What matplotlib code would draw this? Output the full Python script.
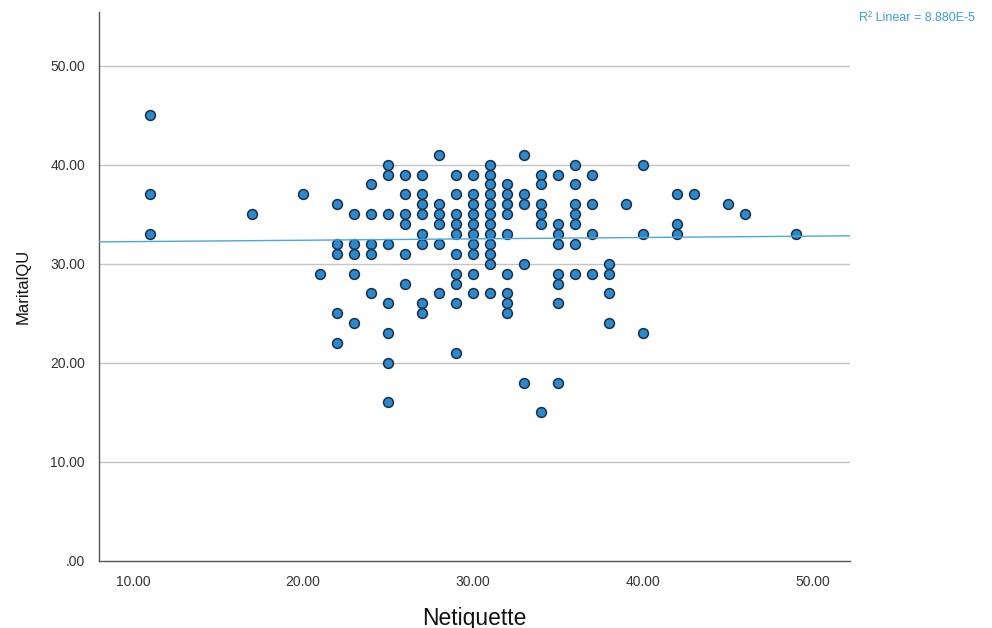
import numpy as np
import matplotlib
matplotlib.use("Agg")
import matplotlib.pyplot as plt

plt.rcParams['font.family'] = ['Liberation Sans', 'DejaVu Sans']

# Netiquette value -> MaritalQU values
columns = {
    11: [45, 37, 33],
    17: [35],
    20: [37],
    21: [29],
    22: [36, 32, 31, 25, 22],
    23: [35, 32, 31, 29, 24],
    24: [38, 35, 32, 31, 27],
    25: [40, 39, 35, 32, 26, 23, 20, 16],
    26: [39, 37, 35, 34, 31, 28],
    27: [39, 37, 36, 35, 33, 32, 26, 25],
    28: [41, 36, 35, 34, 32, 27],
    29: [39, 37, 35, 34, 33, 31, 29, 28, 26, 21],
    30: [39, 37, 36, 35, 34, 33, 32, 31, 29, 27],
    31: [40, 39, 38, 37, 36, 35, 34, 33, 32, 31, 30, 27],
    32: [38, 37, 36, 35, 33, 29, 27, 26, 25],
    33: [41, 37, 36, 30, 18],
    34: [39, 38, 36, 35, 34, 15],
    35: [39, 34, 33, 32, 29, 28, 26, 18],
    36: [40, 38, 36, 35, 34, 32, 29],
    37: [39, 36, 33, 29],
    38: [30, 29, 27, 24],
    39: [36],
    40: [40, 33, 23],
    42: [37, 34, 33],
    43: [37],
    45: [36],
    46: [35],
    49: [33],
}
netiquette = np.array([k for k, v in columns.items() for _ in v], dtype=float)
marital = np.array([y for v in columns.values() for y in v], dtype=float)

x_ticks = [10, 20, 30, 40, 50]
y_ticks = [0, 10, 20, 30, 40, 50]
r2_label = "R\u00b2 Linear = 8.880E-5"

fig = plt.figure(figsize=(9.92, 6.28), dpi=100)
ax = fig.add_axes([99 / 992, (628 - 561) / 628, 751 / 992, 549 / 628])

xlim = (8.0, 52.2)
ylim = (0, 55.4)

# horizontal grid
for yt in y_ticks[1:]:
    ax.axhline(yt, color='#c4c4c4', lw=1.0, zorder=1)

ax.scatter(netiquette, marital, s=50, facecolor='#2d89cc', edgecolor='#1b2f45',
           linewidth=1.1, zorder=3)

# linear fit
slope, intercept = np.polyfit(netiquette, marital, 1)
xs = np.array(xlim)
ax.plot(xs, intercept + slope * xs, color='#4aa6de', lw=1.0, zorder=4)

ax.set_xlim(*xlim)
ax.set_ylim(*ylim)
ax.set_xticks(x_ticks)
ax.set_xticklabels([f"{t:.2f}" for t in x_ticks])
ax.set_yticks(y_ticks)
ax.set_yticklabels([".00" if t == 0 else f"{t:.2f}" for t in y_ticks])
ax.tick_params(length=0, labelsize=10, colors='#333333', pad=10)

for side in ['top', 'right']:
    ax.spines[side].set_visible(False)
for side in ['left', 'bottom']:
    ax.spines[side].set_color('#555555')
    ax.spines[side].set_linewidth(1.0)

ax.set_xlabel("Netiquette", fontsize=16.5, color='#111111', labelpad=13)
ax.set_ylabel("MaritalQU", fontsize=12, color='#111111', labelpad=14)

fig.text(975 / 992, 1 - 18 / 628, r2_label, ha='right', va='center',
         fontsize=9, color='#3a9ee0')

fig.savefig("out.png", dpi=100)
